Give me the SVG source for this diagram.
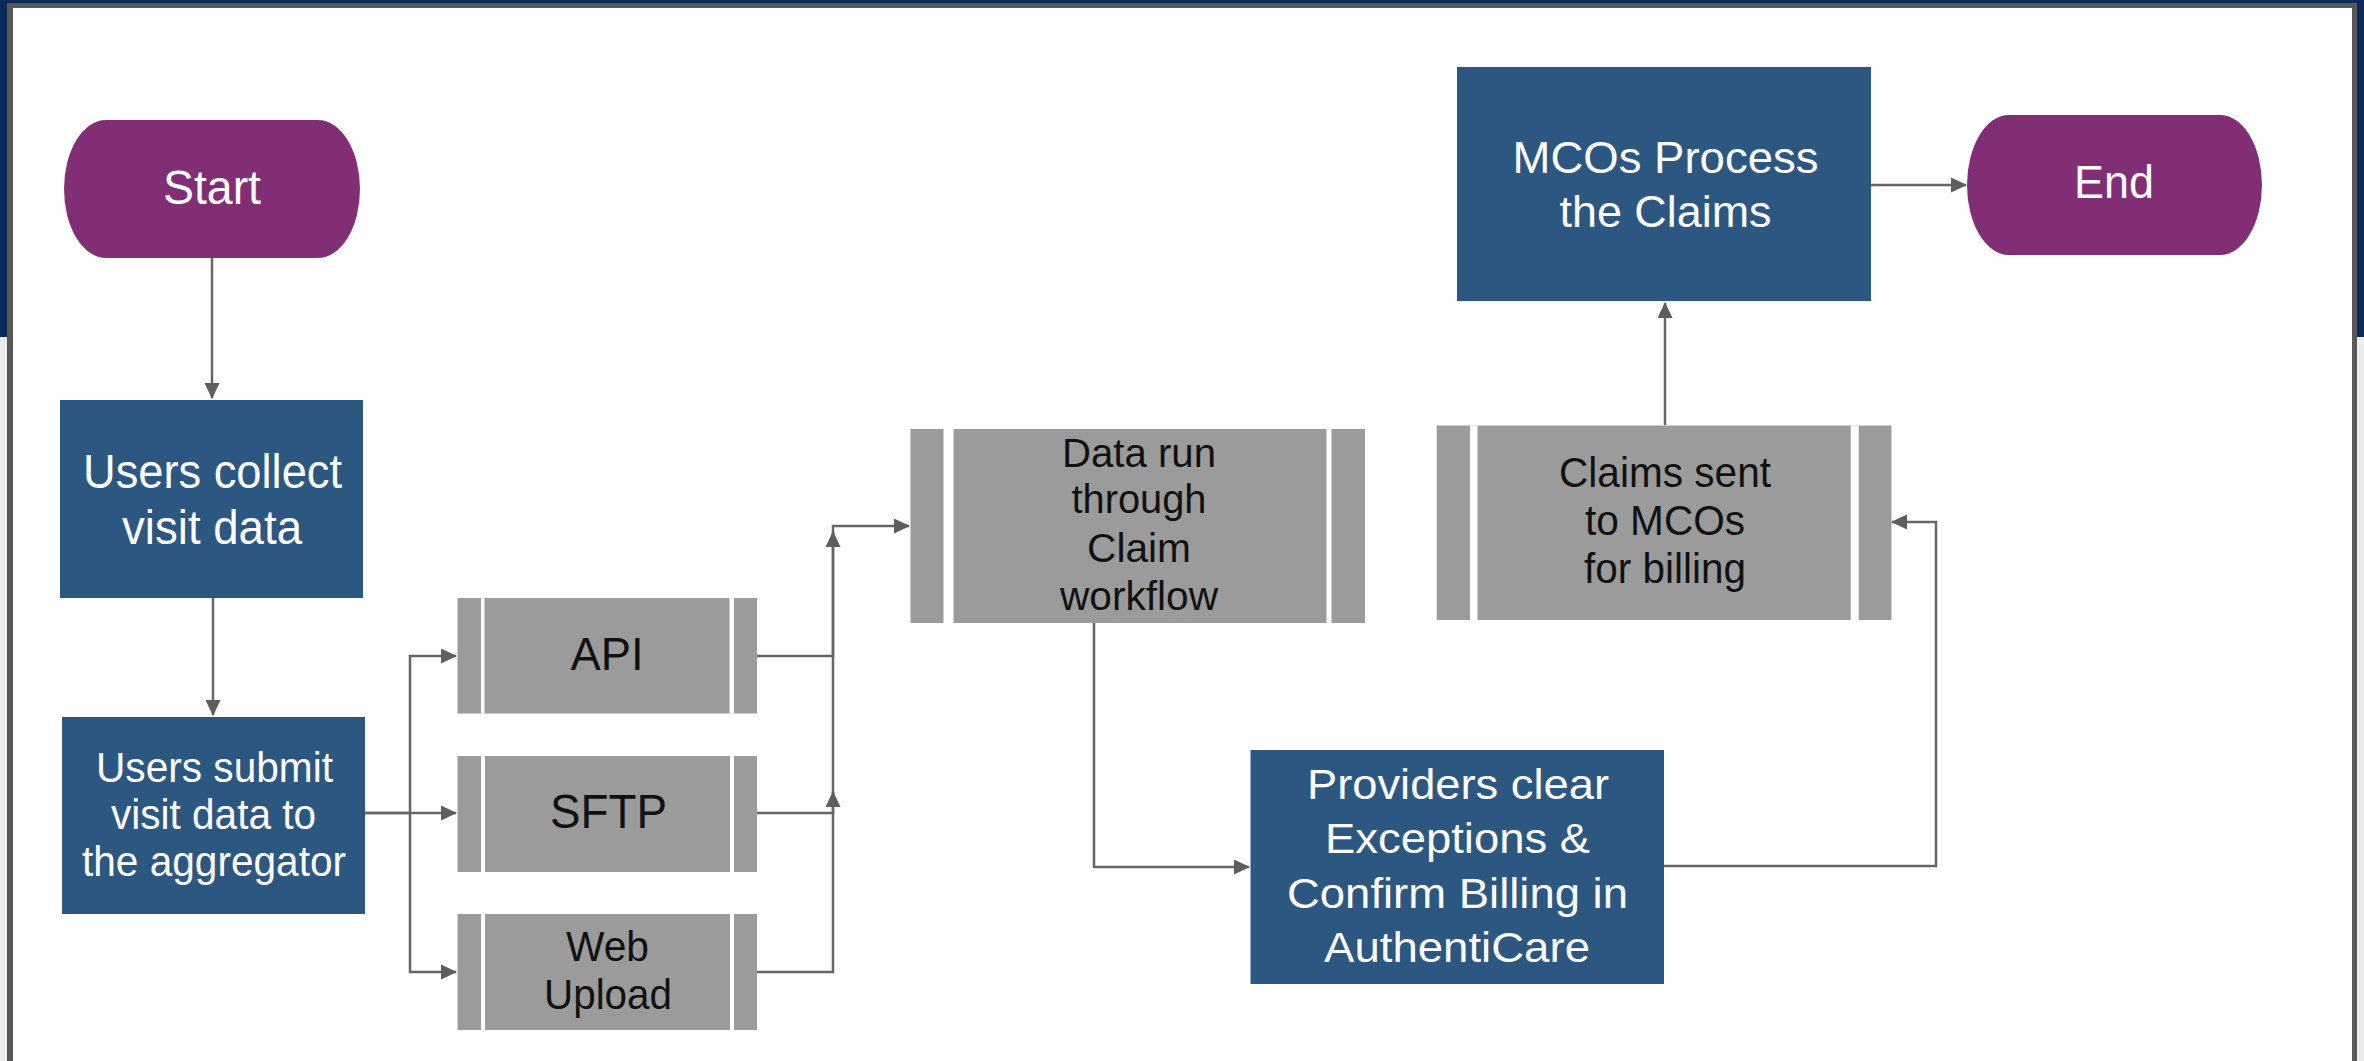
<svg xmlns="http://www.w3.org/2000/svg" width="2364" height="1061" viewBox="0 0 2364 1061">
<style>
  .term { fill: #822e74; }
  .proc { fill: #2c5781; }
  .pre { fill: #9b9b9b; }
  .gap { fill: #ffffff; }
  .tw { fill: #ffffff; font-family: "Liberation Sans", Arial, sans-serif; text-anchor: middle; }
  .tb { fill: #111111; font-family: "Liberation Sans", Arial, sans-serif; text-anchor: middle; }
  .conn { fill: none; stroke: #666666; stroke-width: 2.5; }
</style>
<defs>
  <marker id="arr" markerUnits="userSpaceOnUse" markerWidth="16" markerHeight="15" refX="15" refY="7.5" orient="auto">
    <path d="M0,0 L16,7.5 L0,15 z" fill="#5e5e5e"/>
  </marker>
</defs>

<g id="background">
  <rect x="0" y="0" width="2364" height="1061" fill="#ececec"/>
  <rect x="0" y="0" width="2364" height="337" fill="#0b2a57"/>
  <rect x="7" y="3" width="2350" height="1070" fill="#585858"/>
  <rect x="13" y="8" width="2339" height="1065" fill="#ffffff"/>
</g>

<g id="connectors">
  <path class="conn" d="M212,258 V398" marker-end="url(#arr)"/>
  <path class="conn" d="M213,598 V715" marker-end="url(#arr)"/>
  <path class="conn" d="M365,813 H410 V656 H456" marker-end="url(#arr)"/>
  <path class="conn" d="M365,813 H456" marker-end="url(#arr)"/>
  <path class="conn" d="M410,813 V972 H456" marker-end="url(#arr)"/>
  <path class="conn" d="M757,656 H833 V526 H909" marker-end="url(#arr)"/>
  <path class="conn" d="M757,813 H833 V532" marker-end="url(#arr)"/>
  <path class="conn" d="M757,972 H833 V792" marker-end="url(#arr)"/>
  <path class="conn" d="M1094,623 V867 H1249" marker-end="url(#arr)"/>
  <path class="conn" d="M1664,866 H1936 V522 H1892" marker-end="url(#arr)"/>
  <path class="conn" d="M1665,425 V303" marker-end="url(#arr)"/>
  <path class="conn" d="M1871,185 H1966" marker-end="url(#arr)"/>
</g>

<g id="start">
  <rect class="term" x="64" y="120" width="296" height="138" rx="42" ry="69"/>
  <text class="tw" x="212" y="204" font-size="48" textLength="98" lengthAdjust="spacingAndGlyphs">Start</text>
</g>

<g id="collect">
  <rect class="proc" x="60" y="400" width="303" height="198"/>
  <text class="tw" x="212.5" y="488" font-size="49" textLength="259" lengthAdjust="spacingAndGlyphs">Users collect</text>
  <text class="tw" x="212" y="544" font-size="49" textLength="180" lengthAdjust="spacingAndGlyphs">visit data</text>
</g>

<g id="submit">
  <rect class="proc" x="62" y="717" width="303" height="197"/>
  <text class="tw" x="214.5" y="782" font-size="42" textLength="237" lengthAdjust="spacingAndGlyphs">Users submit</text>
  <text class="tw" x="213.5" y="829" font-size="42" textLength="205" lengthAdjust="spacingAndGlyphs">visit data to</text>
  <text class="tw" x="214" y="876" font-size="42" textLength="264" lengthAdjust="spacingAndGlyphs">the aggregator</text>
</g>

<g id="api">
  <rect class="pre" x="457.5" y="598" width="299.5" height="115.5"/>
  <rect class="gap" x="481" y="598" width="3.5" height="115.5"/>
  <rect class="gap" x="729.5" y="598" width="4.5" height="115.5"/>
  <text class="tb" x="607" y="670" font-size="47" textLength="73" lengthAdjust="spacingAndGlyphs">API</text>
</g>

<g id="sftp">
  <rect class="pre" x="457.5" y="756" width="299.5" height="116"/>
  <rect class="gap" x="481" y="756" width="4" height="116"/>
  <rect class="gap" x="730" y="756" width="4" height="116"/>
  <text class="tb" x="608.5" y="828" font-size="48" textLength="117" lengthAdjust="spacingAndGlyphs">SFTP</text>
</g>

<g id="web">
  <rect class="pre" x="457.5" y="914" width="299.5" height="116"/>
  <rect class="gap" x="481" y="914" width="4" height="116"/>
  <rect class="gap" x="730" y="914" width="4" height="116"/>
  <text class="tb" x="607.5" y="961" font-size="42" textLength="83" lengthAdjust="spacingAndGlyphs">Web</text>
  <text class="tb" x="608" y="1009" font-size="42" textLength="128" lengthAdjust="spacingAndGlyphs">Upload</text>
</g>

<g id="datarun">
  <rect class="pre" x="910.5" y="429" width="454.5" height="194"/>
  <rect class="gap" x="943.5" y="429" width="10" height="194"/>
  <rect class="gap" x="1326.5" y="429" width="5" height="194"/>
  <text class="tb" x="1139" y="467" font-size="40" textLength="154" lengthAdjust="spacingAndGlyphs">Data run</text>
  <text class="tb" x="1139" y="513" font-size="40" textLength="135" lengthAdjust="spacingAndGlyphs">through</text>
  <text class="tb" x="1139" y="562" font-size="40" textLength="104" lengthAdjust="spacingAndGlyphs">Claim</text>
  <text class="tb" x="1139" y="610" font-size="40" textLength="158" lengthAdjust="spacingAndGlyphs">workflow</text>
</g>

<g id="providers">
  <rect class="proc" x="1250.5" y="750" width="413.5" height="234"/>
  <text class="tw" x="1458" y="799" font-size="43" textLength="302" lengthAdjust="spacingAndGlyphs">Providers clear</text>
  <text class="tw" x="1457.5" y="853" font-size="43" textLength="265" lengthAdjust="spacingAndGlyphs">Exceptions &amp;</text>
  <text class="tw" x="1457.5" y="908" font-size="43" textLength="341" lengthAdjust="spacingAndGlyphs">Confirm Billing in</text>
  <text class="tw" x="1457" y="962" font-size="43" textLength="266" lengthAdjust="spacingAndGlyphs">AuthentiCare</text>
</g>

<g id="claimssent">
  <rect class="pre" x="1436.7" y="425.5" width="454.8" height="194.5"/>
  <rect class="gap" x="1470" y="425.5" width="7.5" height="194.5"/>
  <rect class="gap" x="1850.7" y="425.5" width="8" height="194.5"/>
  <text class="tb" x="1665" y="487" font-size="42" textLength="212" lengthAdjust="spacingAndGlyphs">Claims sent</text>
  <text class="tb" x="1665" y="535" font-size="42" textLength="160" lengthAdjust="spacingAndGlyphs">to MCOs</text>
  <text class="tb" x="1665" y="583" font-size="42" textLength="162" lengthAdjust="spacingAndGlyphs">for billing</text>
</g>

<g id="mcos">
  <rect class="proc" x="1457" y="67" width="414" height="234"/>
  <text class="tw" x="1665.5" y="173" font-size="44" textLength="306" lengthAdjust="spacingAndGlyphs">MCOs Process</text>
  <text class="tw" x="1665.5" y="227" font-size="44" textLength="212" lengthAdjust="spacingAndGlyphs">the Claims</text>
</g>

<g id="end">
  <rect class="term" x="1967" y="115" width="295" height="140" rx="42" ry="70"/>
  <text class="tw" x="2114" y="198" font-size="47" textLength="80" lengthAdjust="spacingAndGlyphs">End</text>
</g>
</svg>
